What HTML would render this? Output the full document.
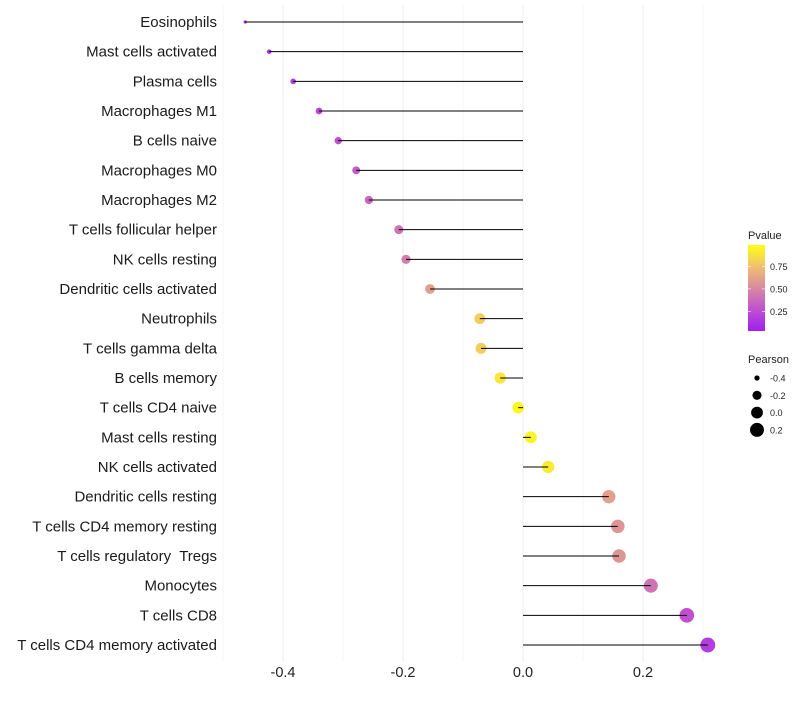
<!DOCTYPE html>
<html><head><meta charset="utf-8"><style>
body{margin:0;background:#fff;font-family:"Liberation Sans",sans-serif}
svg text{font-family:"Liberation Sans",sans-serif;white-space:pre}
</style></head><body>
<svg id="c" width="800" height="700"></svg>
<script>
const categories=["Eosinophils","Mast cells activated","Plasma cells","Macrophages M1","B cells naive","Macrophages M0","Macrophages M2","T cells follicular helper","NK cells resting","Dendritic cells activated","Neutrophils","T cells gamma delta","B cells memory","T cells CD4 naive","Mast cells resting","NK cells activated","Dendritic cells resting","T cells CD4 memory resting","T cells regulatory  Tregs","Monocytes","T cells CD8","T cells CD4 memory activated"];
const pearson=[-0.463,-0.423,-0.383,-0.34,-0.308,-0.278,-0.257,-0.207,-0.195,-0.155,-0.072,-0.07,-0.038,-0.008,0.013,0.042,0.143,0.158,0.16,0.213,0.273,0.308];
const pvalue=[0.05,0.1,0.15,0.2,0.25,0.3,0.35,0.4,0.45,0.6,0.8,0.8,0.9,0.97,0.96,0.92,0.6,0.55,0.55,0.4,0.25,0.15];
const xTicks=[-0.4,-0.2,0.0,0.2];
const xTickLabels=["-0.4","-0.2","0.0","0.2"];
const minorTicks=[-0.5,-0.3,-0.1,0.1,0.3];
const legendPearson=[-0.4,-0.2,0.0,0.2];
const legendPearsonLabels=["-0.4","-0.2","0.0","0.2"];
const legendP=[0.25,0.5,0.75];
const legendPLabels=["0.25","0.50","0.75"];

const NS="http://www.w3.org/2000/svg";
const svg=document.getElementById('c');
function mk(t,a,p){const e=document.createElementNS(NS,t);for(const k in a)e.setAttribute(k,a[k]);(p||svg).appendChild(e);return e;}
const xS=v=>523+v*600;
const yS=i=>22+i*(623/21);
function rS(v){const a0=2.6,a1=56;const t=(v+0.463)/(0.308+0.463);return Math.sqrt(a0+(a1-a0)*t);}
const stops=[[0,[160,32,240]],[0.25,[192,80,208]],[0.5,[216,138,160]],[0.75,[240,192,112]],[1,[255,255,20]]];
function col(p){for(let i=1;i<stops.length;i++){if(p<=stops[i][0]){const a=stops[i-1],b=stops[i];const t=(p-a[0])/(b[0]-a[0]);const c=a[1].map((x,k)=>Math.round(x+(b[1][k]-x)*t));return `rgb(${c})`;}}return 'rgb(255,255,20)';}

minorTicks.forEach(v=>{const l=mk('line',{x1:xS(v),x2:xS(v),y1:5,y2:662,stroke:'#f4f4f4','stroke-width':0.8});

});
xTicks.forEach((v,i)=>{const l=mk('line',{x1:xS(v),x2:xS(v),y1:5,y2:662,stroke:'#eeeeee','stroke-width':1});


const t=mk('text',{x:xS(v),y:677,'text-anchor':'middle','font-size':14.5,fill:'#222'});t.textContent=xTickLabels[i];

});
categories.forEach((c,i)=>{const y=yS(i);
const t=mk('text',{x:217,y:y+5,'text-anchor':'end','font-size':15,fill:'#1a1a1a'});t.textContent=c;


const d=mk('circle',{cx:xS(pearson[i]),cy:y,r:rS(pearson[i]),fill:col(pvalue[i])});


const s=mk('line',{x1:xS(0),x2:xS(pearson[i]),y1:y,y2:y,stroke:'#000','stroke-width':1});

});
const defs=mk('defs',{});const gr=mk('linearGradient',{id:'gb',x1:0,y1:1,x2:0,y2:0},defs);
stops.forEach(s=>mk('stop',{offset:s[0],'stop-color':col(s[0])},gr));
const pv0=0.03,pv1=0.99,cbT=245,cbB=331;const pY=p=>cbB-(p-pv0)/(pv1-pv0)*(cbB-cbT);
const lt=mk('text',{x:748,y:239,'font-size':11,fill:'#222'});lt.textContent='Pvalue';


const cb=mk('rect',{x:748,y:cbT,width:17,height:cbB-cbT,fill:'url(#gb)'});


legendP.forEach((p,i)=>{mk('line',{x1:748,x2:751,y1:pY(p),y2:pY(p),stroke:'#fff','stroke-width':0.6});mk('line',{x1:762,x2:765,y1:pY(p),y2:pY(p),stroke:'#fff','stroke-width':0.6});
const t=mk('text',{x:770,y:pY(p)+3.5,'font-size':9,fill:'#222'});t.textContent=legendPLabels[i];

});
const pt=mk('text',{x:748,y:363,'font-size':11,fill:'#222'});pt.textContent='Pearson';


legendPearson.forEach((v,i)=>{const y=378+i*17.3;
const c=mk('circle',{cx:757,cy:y,r:rS(v),fill:'#000'});


const t=mk('text',{x:770,y:y+3.5,'font-size':9,fill:'#222'});t.textContent=legendPearsonLabels[i];

});
</script>
</body></html>
